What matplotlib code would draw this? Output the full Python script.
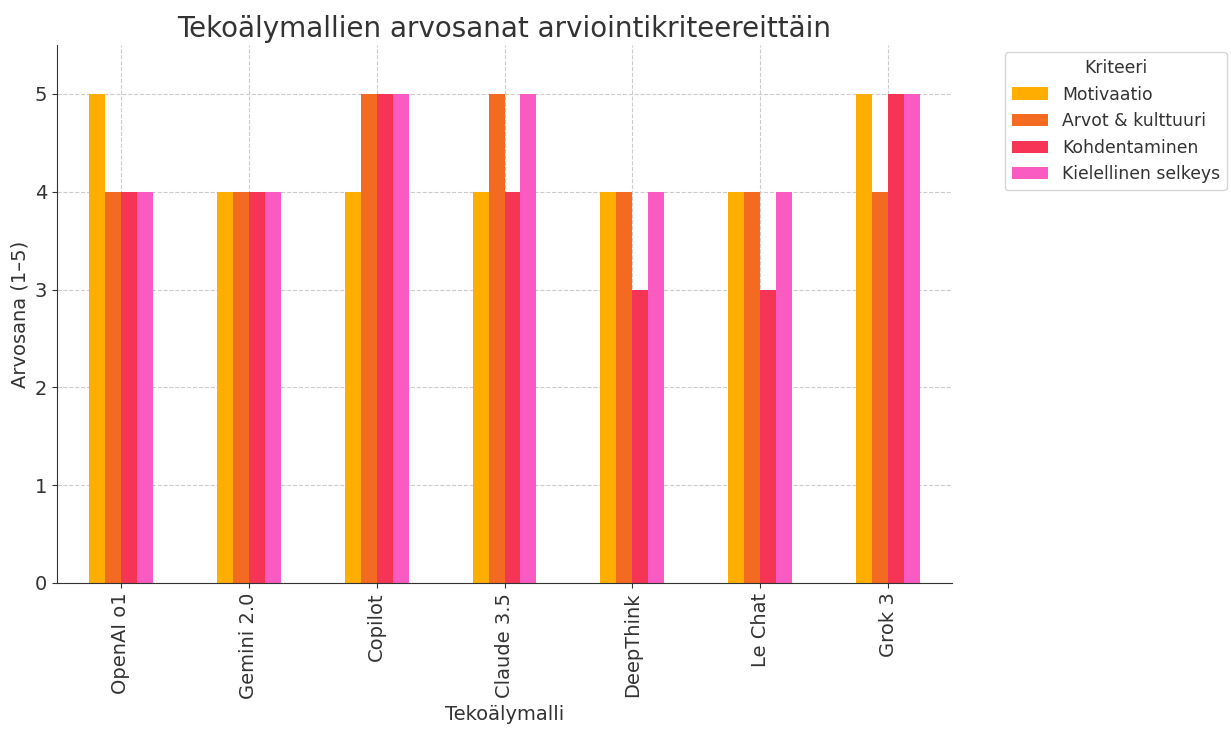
import matplotlib
matplotlib.use("Agg")
import matplotlib.pyplot as plt
import numpy as np

models = ["OpenAI o1", "Gemini 2.0", "Copilot", "Claude 3.5", "DeepThink", "Le Chat", "Grok 3"]
criteria = ["Motivaatio", "Arvot & kulttuuri", "Kohdentaminen", "Kielellinen selkeys"]
motivaatio = [5, 4, 4, 4, 4, 4, 5]
arvot = [4, 4, 5, 5, 4, 4, 4]
kohdentaminen = [4, 4, 5, 4, 3, 3, 5]
kielellinen = [4, 4, 5, 5, 4, 4, 5]
series = [motivaatio, arvot, kohdentaminen, kielellinen]
colors = ["#FFAE00", "#F26B21", "#F63456", "#F95BC3"]
text_color = "#333333"

fig = plt.figure(figsize=(12.31, 7.33), dpi=100)
ax = fig.add_axes([57/1231, 1-583/733, (952-57)/1231, (583-45)/733])

x = np.arange(len(models))
w = 0.125
for i, (vals, c, lab) in enumerate(zip(series, colors, criteria)):
    ax.bar(x + (i - 1.5) * w, vals, width=w, color=c, label=lab, zorder=2)

ax.set_xlim(-0.5, len(models) - 0.5)
ax.set_ylim(0, 5.5)
ax.set_xticks(x)
ax.set_xticklabels(models, rotation=90, fontsize=14, color=text_color)
ax.set_yticks(range(6))
ax.tick_params(axis='y', labelsize=14, labelcolor=text_color)
ax.tick_params(colors=text_color)
ax.grid(True, linestyle='--', color='#cccccc', linewidth=0.8, zorder=0)
ax.set_axisbelow(True)
for s in ["top", "right"]:
    ax.spines[s].set_visible(False)
for s in ["left", "bottom"]:
    ax.spines[s].set_color(text_color)
ax.set_xlabel("Tekoälymalli", fontsize=14, color=text_color)
ax.set_ylabel("Arvosana (1–5)", fontsize=14, color=text_color)
ax.set_title("Tekoälymallien arvosanat arviointikriteereittäin", fontsize=20, color=text_color, pad=6)

handles, labels = ax.get_legend_handles_labels()
leg = fig.legend(handles, labels, title="Kriteeri", loc="upper left",
                 bbox_to_anchor=(1005/1231, 1-52/733), fontsize=12.4, title_fontsize=12.4,
                 frameon=True, borderaxespad=0, handlelength=2.1)
for t in leg.get_texts():
    t.set_color(text_color)
leg.get_title().set_color(text_color)

fig.savefig("out.png", dpi=100)
